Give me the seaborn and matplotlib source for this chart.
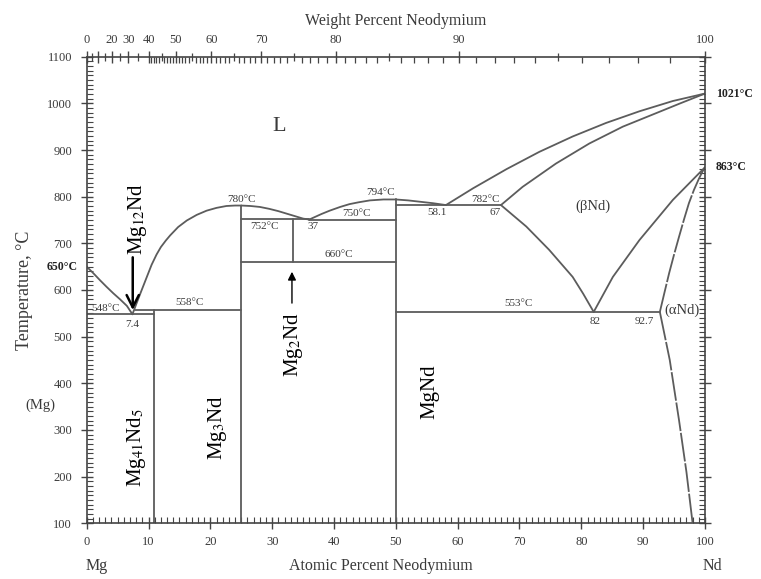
import numpy as np
import pandas as pd
import matplotlib
matplotlib.use("Agg")
import matplotlib.pyplot as plt
import seaborn as sns
from matplotlib.ticker import FixedLocator, MultipleLocator, NullFormatter

# ---------------- data (atomic % Nd, temperature °C) ----------------
mg_liquidus_x = [0, 1.0, 2.15, 3.2, 4.3, 5.4, 6.5, 7.4]
mg_liquidus_t = [650, 637, 621, 607, 593, 580, 566, 548]

mg3nd_left_x = [7.4, 8.2, 8.9, 9.7, 10.5, 11.3, 12.0, 12.8, 13.5, 14.8, 16.2, 17.8,
                19.4, 21.0, 22.6, 24.0, 25.0]
mg3nd_left_t = [548, 576, 600, 627, 654, 676, 692, 706, 717, 735, 749, 761,
                770, 776, 780, 781, 781]

mg3nd_right_x = [25, 26.5, 28, 29.5, 31, 32.5, 34, 35, 36]
mg3nd_right_t = [781, 780, 778, 774, 769, 763, 757, 753, 751]

mgnd_left_x = [36, 37, 38, 39.3, 41, 42.5, 44, 45.8, 48, 50]
mgnd_left_t = [751, 757, 763, 770, 778, 784, 788, 792, 794, 794]

mgnd_right_x = [50, 52, 54, 56, 58.1]
mgnd_right_t = [794, 792, 789, 786, 782]

nd_liquidus_x = [58.1, 62.5, 67.9, 73.2, 78.6, 84.0, 89.4, 94.8, 100]
nd_liquidus_t = [782, 818, 859, 896, 929, 958, 983, 1005, 1021]

nd_solidus_x = [67, 70.5, 75.9, 81.3, 86.7, 92.1, 96, 100]
nd_solidus_t = [782, 821, 871, 914, 950, 979, 1000, 1021]

bnd_lower_x = [67, 71.1, 74.8, 78.6, 80.3, 82]
bnd_lower_t = [782, 736, 686, 628, 592, 553]

bnd_right_x = [82, 85.1, 89.4, 94.8, 100]
bnd_right_t = [553, 628, 707, 793, 863]

and_upper_x = [92.7, 93.4, 94.2, 95.0, 95.8, 96.6, 97.4, 98.2, 99.0, 99.6, 100]
and_upper_t = [553, 592, 636, 676, 714, 751, 786, 814, 838, 854, 863]

and_solvus_x = [92.7, 94.3, 95.8, 97.0, 98.0]
and_solvus_t = [553, 450, 321, 210, 100]

# invariant lines / compounds: (x list, t list)
segments = {
    "eut548": ([0, 10.9], [548, 548]),
    "per558": ([7.8, 25], [558, 558]),
    "mg41nd5": ([10.9, 10.9], [100, 558]),
    "mg3nd": ([25, 25], [100, 781]),
    "iso752": ([25, 36], [752, 752]),
    "iso750": ([36, 50], [750, 750]),
    "iso660": ([25, 50], [660, 660]),
    "mg2nd": ([33.3, 33.3], [660, 752]),
    "mgnd": ([50, 50], [100, 794]),
    "iso782": ([50, 67], [782, 782]),
    "iso553": ([50, 92.7], [553, 553]),
}

curves = {
    "mg_liq": (mg_liquidus_x, mg_liquidus_t),
    "mg3nd_l": (mg3nd_left_x, mg3nd_left_t),
    "mg3nd_r": (mg3nd_right_x, mg3nd_right_t),
    "mgnd_l": (mgnd_left_x, mgnd_left_t),
    "mgnd_r": (mgnd_right_x, mgnd_right_t),
    "nd_liq": (nd_liquidus_x, nd_liquidus_t),
    "nd_sol": (nd_solidus_x, nd_solidus_t),
    "bnd_low": (bnd_lower_x, bnd_lower_t),
    "bnd_r": (bnd_right_x, bnd_right_t),
}
curves.update(segments)
dashed = {"and_up": (and_upper_x, and_upper_t),
          "and_solv": (and_solvus_x, and_solvus_t)}

def to_df(d):
    rows = []
    for name, (xs, ts) in d.items():
        for i, (x, t) in enumerate(zip(xs, ts)):
            rows.append({"curve": name, "order": i, "at": x, "T": t})
    return pd.DataFrame(rows)

df_solid = to_df(curves)
df_dash = to_df(dashed)

# weight-percent scale (Mg = 24.305, Nd = 144.24)
M_MG, M_ND = 24.305, 144.24
wt_major = [0, 10, 20, 30, 40, 50, 60, 70, 80, 90, 100]
wt_labels = ["0", "", "20", "30", "40", "50", "60", "70", "80", "90", "100"]
wt_mid = [5, 15, 25, 35, 45, 55, 65, 75, 85, 95]
wt_fine = [w for w in range(41, 100) if w % 5 != 0]

def wt2at(w):
    w = np.asarray(w, float)
    return 100 * (w / M_ND) / (w / M_ND + (100 - w) / M_MG)

# ---------------- style ----------------
sns.set_theme(style="ticks")
plt.rcParams["font.family"] = ["Liberation Serif", "DejaVu Serif"]
plt.rcParams["mathtext.fontset"] = "stix"

LINE = "#5c5c5c"
TXT = "#3a3a3a"
AX = "#444444"

fig = plt.figure(figsize=(7.61, 5.79), dpi=100)
rect = [0.1139, 0.0962, 0.8125, 0.8059]
ax = fig.add_axes(rect)

sns.lineplot(data=df_solid, x="at", y="T", units="curve", estimator=None,
             sort=False, color=LINE, lw=1.3, ax=ax)
n_before = len(ax.lines)
sns.lineplot(data=df_dash, x="at", y="T", units="curve", estimator=None,
             sort=False, color=LINE, lw=1.3, ax=ax)
for ln in ax.lines[n_before:]:
    ln.set_dashes([16, 1.0])

ax.set_xlim(0, 100)
ax.set_ylim(100, 1100)
ax.set_xlabel("")
ax.set_ylabel("Temperature, °C", fontsize=13, color=TXT, labelpad=10)

for s in ax.spines.values():
    s.set_color(AX)
    s.set_linewidth(1.2)

ax.xaxis.set_major_locator(MultipleLocator(10))
ax.xaxis.set_minor_locator(MultipleLocator(1))
ax.yaxis.set_major_locator(MultipleLocator(100))
ax.yaxis.set_minor_locator(MultipleLocator(10))
ax.tick_params(which="major", direction="inout", length=9, width=1.0,
               color=AX, labelsize=9, labelcolor=TXT,
               left=True, right=True, bottom=True, top=False)
ax.tick_params(which="minor", direction="in", length=4, width=0.8,
               color=AX, left=True, right=True, bottom=True, top=False)
ax.tick_params(axis="x", pad=5)
ax.tick_params(axis="y", pad=6)

# top weight-percent axis
top = ax.twiny()
top.set_xlim(0, 100)
top.set_xticks(wt2at(wt_major))
top.set_xticklabels(wt_labels)
top.xaxis.set_minor_locator(FixedLocator(wt2at(wt_mid)))
top.tick_params(which="major", direction="inout", length=9, width=1.0,
                color=AX, labelsize=9, labelcolor=TXT, pad=3)
top.tick_params(which="minor", direction="inout", length=6, width=0.9, color=AX)
for s in top.spines.values():
    s.set_visible(False)
top.set_xlabel("Weight Percent Neodymium", fontsize=11.5, color=TXT, labelpad=7)

fine = ax.twiny()
fine.set_xlim(0, 100)
fine.set_xticks(wt2at(wt_fine))
fine.xaxis.set_major_formatter(NullFormatter())
fine.tick_params(which="major", direction="in", length=4.5, width=0.9, color=AX)
for s in fine.spines.values():
    s.set_visible(False)

# bottom labels
fig.text(97 / 761, 1 - 566 / 579, "Mg", fontsize=11.5, color=TXT, ha="center", va="center")
fig.text(381 / 761, 1 - 566 / 579, "Atomic Percent Neodymium", fontsize=11.5, color=TXT,
         ha="center", va="center")
fig.text(712 / 761, 1 - 566 / 579, "Nd", fontsize=11.5, color=TXT, ha="center", va="center")

# ---------------- annotations ----------------
small = dict(fontsize=8, color=TXT, ha="center", va="center")
ax.text(31.1, 950, "L", fontsize=16, color=TXT, ha="center", va="center")
ax.text(25.1, 793, "780°C", **small)
ax.text(28.8, 737, "752°C", **small)
ax.text(36.6, 737, "37", **small)
ax.text(43.7, 763, "750°C", **small)
ax.text(40.8, 675, "660°C", **small)
ax.text(47.5, 810, "794°C", **small)
ax.text(56.6, 767, "58.1", **small)
ax.text(64.5, 795, "782°C", **small)
ax.text(66.0, 767, "67", **small)
ax.text(69.8, 572, "553°C", **small)
ax.text(82.3, 533, "82", **small)
ax.text(90.2, 533, "92.7", **small)
ax.text(3.1, 561, "548°C", **small)
ax.text(7.3, 527, "7.4", **small)
ax.text(16.7, 574, "558°C", **small)
ax.text(81.8, 780, "(βNd)", fontsize=10.5, color=TXT, ha="center", va="center")
ax.text(96.3, 557, "(αNd)", fontsize=10.5, color=TXT, ha="center", va="center")
ax.text(-7.5, 354, "(Mg)", fontsize=10.5, color=TXT, ha="center", va="center", clip_on=False)

bold = dict(fontsize=8.5, color="#222222", fontweight="bold", va="center", clip_on=False)
ax.text(-1.5, 650, "650°C", ha="right", **bold)
ax.text(101.8, 1021, "1021°C", ha="left", **bold)
ax.text(101.8, 863, "863°C", ha="left", **bold)

big = dict(fontsize=15, color="black", rotation=90, ha="center", va="center")
ax.text(8.2, 752, r"Mg$_{12}$Nd", **big)
ax.text(8.1, 262, r"Mg$_{41}$Nd$_5$", **big)
ax.text(21.2, 306, r"Mg$_3$Nd", **big)
ax.text(33.5, 482, r"Mg$_2$Nd", **big)
ax.text(55.5, 382, "MgNd", **big)

ax.annotate("", xy=(7.45, 551), xytext=(7.45, 676),
            arrowprops=dict(arrowstyle="->", color="black", lw=1.8, mutation_scale=22))
ax.annotate("", xy=(33.2, 645), xytext=(33.2, 566),
            arrowprops=dict(arrowstyle="-|>", color="black", lw=1.0, mutation_scale=12))

fig.savefig("out.png", dpi=100)
